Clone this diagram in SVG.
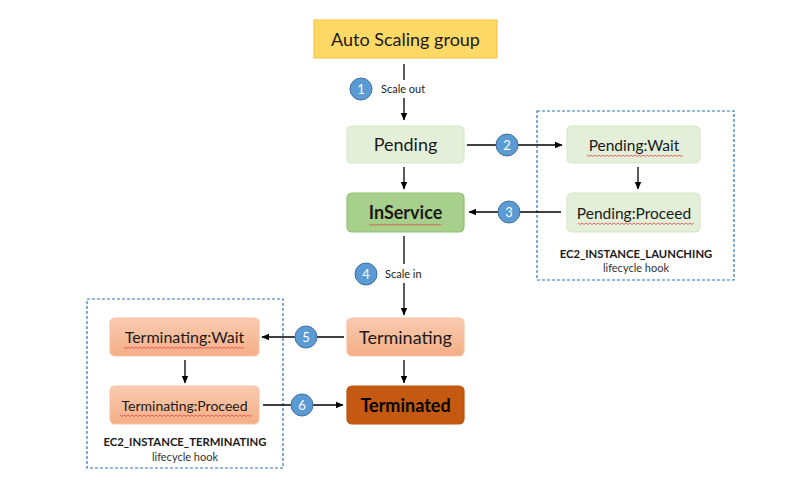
<svg xmlns="http://www.w3.org/2000/svg" width="792" height="494" viewBox="0 0 792 494">
<defs>
<marker id="arr" markerWidth="8" markerHeight="8" refX="7" refY="4" orient="auto" markerUnits="userSpaceOnUse">
<path d="M0,0.8 L7.5,4 L0,7.2 Z" fill="#000"/>
</marker>
<linearGradient id="gTerm" x1="0" y1="0" x2="0" y2="1">
<stop offset="0" stop-color="#f9cbb0"/>
<stop offset="1" stop-color="#f4ae86"/>
</linearGradient>
<style>
text{font-family:Lato,"Open Sans","Liberation Sans",sans-serif;fill:#1a1a1a}
.box{stroke-width:1.2}
.green{fill:#e3efd9;stroke:#d5e8c8}
.ins{fill:#a8d08d;stroke:#8cc06c}
.term{fill:url(#gTerm);stroke:#f6c3a5}
.termd{fill:#c65911;stroke:#b9540f}
.asg{fill:#ffd966;stroke:#f9c94a}
.lbl{font-size:18px;text-anchor:middle}
.sm{font-size:15.5px;text-anchor:middle}
.conn{stroke:#000;stroke-width:1.3;fill:none}
.dash{fill:none;stroke:#2e75b6;stroke-width:1.2;stroke-dasharray:3,2}
.num circle{fill:#5b9bd5;stroke:#41719c;stroke-width:1}
.num text{fill:#fff;font-size:13px;text-anchor:middle}
.note{font-size:11px}
.hook{font-size:11.3px;font-weight:bold;text-anchor:middle}
.hk2{font-size:11px;text-anchor:middle;fill:#333}
.sq{fill:none;stroke:#e04848;stroke-width:0.8}
</style>
</defs>
<rect width="792" height="494" fill="#fff"/>

<g id="hook-launching">
<rect class="dash" x="537" y="111" width="197" height="169"/>
<text class="hook" x="636" y="258">EC2_INSTANCE_LAUNCHING</text>
<text class="hk2" x="636" y="272">lifecycle hook</text>
</g>
<g id="hook-terminating">
<rect class="dash" x="87" y="299" width="196" height="169"/>
<text class="hook" x="185" y="446">EC2_INSTANCE_TERMINATING</text>
<text class="hk2" x="185" y="461">lifecycle hook</text>
</g>

<g id="connectors">
<line class="conn" x1="404" y1="64" x2="404" y2="80"/>
<line class="conn" x1="404" y1="98" x2="404" y2="120" marker-end="url(#arr)"/>
<line class="conn" x1="404" y1="167" x2="404" y2="189" marker-end="url(#arr)"/>
<line class="conn" x1="404" y1="236" x2="404" y2="264"/>
<line class="conn" x1="404" y1="283" x2="404" y2="315" marker-end="url(#arr)"/>
<line class="conn" x1="404" y1="360" x2="404" y2="383" marker-end="url(#arr)"/>
<line class="conn" x1="467" y1="145" x2="562" y2="145" marker-end="url(#arr)"/>
<line class="conn" x1="561" y1="212" x2="469" y2="212" marker-end="url(#arr)"/>
<line class="conn" x1="638" y1="167" x2="638" y2="189" marker-end="url(#arr)"/>
<line class="conn" x1="344" y1="337" x2="262" y2="337" marker-end="url(#arr)"/>
<line class="conn" x1="263" y1="405" x2="343" y2="405" marker-end="url(#arr)"/>
<line class="conn" x1="185" y1="360" x2="185" y2="383" marker-end="url(#arr)"/>
</g>

<g id="step-labels">
<g class="num"><circle cx="361" cy="89" r="11"/><text x="361" y="93.5">1</text></g>
<text class="note" x="381" y="93">Scale out</text>
<g class="num"><circle cx="507" cy="145" r="11"/><text x="507" y="149.5">2</text></g>
<g class="num"><circle cx="509" cy="212" r="11"/><text x="509" y="216.5">3</text></g>
<g class="num"><circle cx="366" cy="274" r="11"/><text x="366" y="278.5">4</text></g>
<text class="note" x="385" y="278">Scale in</text>
<g class="num"><circle cx="306" cy="337" r="11"/><text x="306" y="341.5">5</text></g>
<g class="num"><circle cx="302" cy="405" r="11"/><text x="302" y="409.5">6</text></g>
</g>

<g id="asg">
<rect class="box asg" x="314" y="20" width="183" height="38"/>
<text class="lbl" x="405.5" y="45.5">Auto Scaling group</text>
</g>
<g id="pending">
<rect class="box green" x="347" y="126" width="117" height="37" rx="5"/>
<text class="lbl" x="405.5" y="151">Pending</text>
</g>
<g id="inservice">
<rect class="box ins" x="347" y="193" width="117" height="39" rx="5"/>
<text class="lbl" x="405.5" y="219" font-weight="bold">InService</text>
<path class="sq" d="M369,224 l2,1.5 l2,-1.5 l2,1.5 l2,-1.5 l2,1.5 l2,-1.5 l2,1.5 l2,-1.5 l2,1.5 l2,-1.5 l2,1.5 l2,-1.5 l2,1.5 l2,-1.5 l2,1.5 l2,-1.5 l2,1.5 l2,-1.5 l2,1.5 l2,-1.5 l2,1.5 l2,-1.5 l2,1.5 l2,-1.5 l2,1.5 l2,-1.5 l2,1.5 l2,-1.5 l2,1.5 l2,-1.5 l2,1.5 l2,-1.5 l2,1.5 l2,-1.5 l2,1.5 l2,-1.5"/>
</g>
<g id="terminating">
<rect class="box term" x="347" y="318" width="117" height="38" rx="5"/>
<text class="lbl" x="405.5" y="343.5">Terminating</text>
</g>
<g id="terminated">
<rect class="box termd" x="347" y="386" width="117" height="38" rx="5"/>
<text class="lbl" x="405.5" y="411.5" font-weight="bold" style="fill:#000">Terminated</text>
</g>
<g id="pending-wait">
<rect class="box green" x="567" y="126" width="133" height="37" rx="5"/>
<text class="sm" x="634" y="150.5">Pending:Wait</text>
<path class="sq" d="M587,155 l2,1.5 l2,-1.5 l2,1.5 l2,-1.5 l2,1.5 l2,-1.5 l2,1.5 l2,-1.5 l2,1.5 l2,-1.5 l2,1.5 l2,-1.5 l2,1.5 l2,-1.5 l2,1.5 l2,-1.5 l2,1.5 l2,-1.5 l2,1.5 l2,-1.5 l2,1.5 l2,-1.5 l2,1.5 l2,-1.5 l2,1.5 l2,-1.5 l2,1.5 l2,-1.5 l2,1.5 l2,-1.5 l2,1.5 l2,-1.5 l2,1.5 l2,-1.5 l2,1.5 l2,-1.5 l2,1.5 l2,-1.5 l2,1.5 l2,-1.5 l2,1.5 l2,-1.5 l2,1.5 l2,-1.5 l2,1.5 l2,-1.5 l2,1.5 l2,-1.5"/>
</g>
<g id="pending-proceed">
<rect class="box green" x="567" y="193" width="133" height="39" rx="5"/>
<text class="sm" x="634" y="218.5">Pending:Proceed</text>
<path class="sq" d="M578,223 l2,1.5 l2,-1.5 l2,1.5 l2,-1.5 l2,1.5 l2,-1.5 l2,1.5 l2,-1.5 l2,1.5 l2,-1.5 l2,1.5 l2,-1.5 l2,1.5 l2,-1.5 l2,1.5 l2,-1.5 l2,1.5 l2,-1.5 l2,1.5 l2,-1.5 l2,1.5 l2,-1.5 l2,1.5 l2,-1.5 l2,1.5 l2,-1.5 l2,1.5 l2,-1.5 l2,1.5 l2,-1.5 l2,1.5 l2,-1.5 l2,1.5 l2,-1.5 l2,1.5 l2,-1.5 l2,1.5 l2,-1.5 l2,1.5 l2,-1.5 l2,1.5 l2,-1.5 l2,1.5 l2,-1.5 l2,1.5 l2,-1.5 l2,1.5 l2,-1.5 l2,1.5 l2,-1.5 l2,1.5 l2,-1.5 l2,1.5 l2,-1.5 l2,1.5 l2,-1.5 l2,1.5 l2,-1.5"/>
</g>
<g id="terminating-wait">
<rect class="box term" x="110" y="318" width="149" height="38" rx="5"/>
<text class="sm" x="184.5" y="343" style="font-size:16px">Terminating:Wait</text>
<path class="sq" d="M124,347 l2,1.5 l2,-1.5 l2,1.5 l2,-1.5 l2,1.5 l2,-1.5 l2,1.5 l2,-1.5 l2,1.5 l2,-1.5 l2,1.5 l2,-1.5 l2,1.5 l2,-1.5 l2,1.5 l2,-1.5 l2,1.5 l2,-1.5 l2,1.5 l2,-1.5 l2,1.5 l2,-1.5 l2,1.5 l2,-1.5 l2,1.5 l2,-1.5 l2,1.5 l2,-1.5 l2,1.5 l2,-1.5 l2,1.5 l2,-1.5 l2,1.5 l2,-1.5 l2,1.5 l2,-1.5 l2,1.5 l2,-1.5 l2,1.5 l2,-1.5 l2,1.5 l2,-1.5 l2,1.5 l2,-1.5 l2,1.5 l2,-1.5 l2,1.5 l2,-1.5 l2,1.5 l2,-1.5 l2,1.5 l2,-1.5 l2,1.5 l2,-1.5 l2,1.5 l2,-1.5 l2,1.5 l2,-1.5 l2,1.5 l2,-1.5"/>
</g>
<g id="terminating-proceed">
<rect class="box term" x="110" y="386" width="149" height="38" rx="5"/>
<text class="sm" x="184.5" y="410.5" style="font-size:14px">Terminating:Proceed</text>
<path class="sq" d="M120,415 l2,1.5 l2,-1.5 l2,1.5 l2,-1.5 l2,1.5 l2,-1.5 l2,1.5 l2,-1.5 l2,1.5 l2,-1.5 l2,1.5 l2,-1.5 l2,1.5 l2,-1.5 l2,1.5 l2,-1.5 l2,1.5 l2,-1.5 l2,1.5 l2,-1.5 l2,1.5 l2,-1.5 l2,1.5 l2,-1.5 l2,1.5 l2,-1.5 l2,1.5 l2,-1.5 l2,1.5 l2,-1.5 l2,1.5 l2,-1.5 l2,1.5 l2,-1.5 l2,1.5 l2,-1.5 l2,1.5 l2,-1.5 l2,1.5 l2,-1.5 l2,1.5 l2,-1.5 l2,1.5 l2,-1.5 l2,1.5 l2,-1.5 l2,1.5 l2,-1.5 l2,1.5 l2,-1.5 l2,1.5 l2,-1.5 l2,1.5 l2,-1.5 l2,1.5 l2,-1.5 l2,1.5 l2,-1.5 l2,1.5 l2,-1.5 l2,1.5 l2,-1.5 l2,1.5 l2,-1.5 l2,1.5 l2,-1.5"/>
</g>
</svg>
